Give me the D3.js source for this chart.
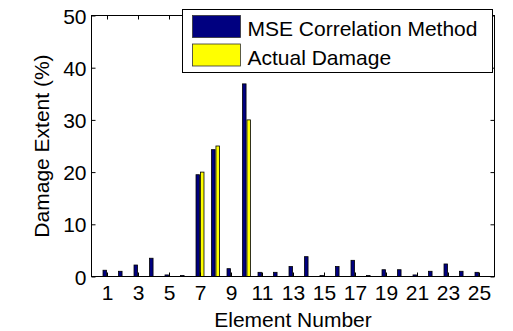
<!DOCTYPE html>
<html>
<head>
<meta charset="utf-8">
<script src="https://cdn.jsdelivr.net/npm/d3@7"></script>
<style>
  html, body { margin: 0; padding: 0; background: #fff; }
  svg { display: block; }
</style>
</head>
<body>
<svg id="chart" width="513" height="331"></svg>
<script>
// Element numbers 1..25
const elements = [1,2,3,4,5,6,7,8,9,10,11,12,13,14,15,16,17,18,19,20,21,22,23,24,25];
// Damage extent (%) identified by the MSE correlation method
const mseValues = [1.2,1.0,2.2,3.5,0.3,0.2,19.5,24.3,1.5,36.9,0.8,0.8,1.9,3.8,0.2,1.9,3.1,0.2,1.3,1.3,0.3,1.0,2.4,1.0,0.8];
// Actual damage extent (%)
const actualValues = [0,0,0,0,0,0,20,25,0,30,0,0,0,0,0,0,0,0,0,0,0,0,0,0,0];
const xTickValues = [1,3,5,7,9,11,13,15,17,19,21,23,25];
const yTickValues = [0,10,20,30,40,50];
const seriesNames = ["MSE Correlation Method", "Actual Damage"];
const seriesColors = ["#000080", "#ffff00"];

const FONT = "'Liberation Sans', Arimo, Arial, Helvetica, sans-serif";
const fontSize = 21;

const svg = d3.select("#chart");
const m = { left: 91.5, right: 494.5, top: 15.5, bottom: 276.5 };

const x = d3.scaleLinear().domain([0, 26]).range([m.left, m.right]);
const y = d3.scaleLinear().domain([0, 50]).range([m.bottom, m.top]);

// Grouped bar geometry: two series per element
const groupWidth = 2 / 3.5;
const barW = groupWidth / 2 * 0.8;
const offsets = [-groupWidth / 4, groupWidth / 4];

const series = [mseValues, actualValues];
series.forEach((vals, si) => {
  svg.append("g")
    .selectAll("rect")
    .data(elements.map((e, i) => ({ e, v: vals[i] })).filter(d => d.v > 0))
    .join("rect")
    .attr("x", d => x(d.e + offsets[si] - barW / 2))
    .attr("width", d => x(d.e + offsets[si] + barW / 2) - x(d.e + offsets[si] - barW / 2))
    .attr("y", d => y(d.v))
    .attr("height", d => y(0) - y(d.v))
    .attr("fill", seriesColors[si])
    .attr("stroke", "#000")
    .attr("stroke-width", 0.8);
});

// Axes: ticks point inward on all four sides
const tickLen = 4;
const bottomAxis = d3.axisBottom(x).tickValues(xTickValues).tickSize(-tickLen).tickPadding(9).tickFormat(d3.format("d"));
const topAxis = d3.axisTop(x).tickValues(xTickValues).tickSize(-tickLen).tickFormat("");
const leftAxis = d3.axisLeft(y).tickValues(yTickValues).tickSize(-tickLen).tickPadding(5).tickFormat(d3.format("d"));
const rightAxis = d3.axisRight(y).tickValues(yTickValues).tickSize(-tickLen).tickFormat("");

function styleAxis(g) {
  g.attr("font-family", FONT).attr("font-size", fontSize);
  g.select(".domain").remove();
  g.selectAll(".tick line").attr("stroke", "#000").attr("stroke-width", 1);
  g.selectAll(".tick text").attr("fill", "#000");
}

svg.append("g").attr("transform", `translate(0,${m.bottom})`).call(bottomAxis).call(styleAxis);
svg.append("g").attr("transform", `translate(0,${m.top})`).call(topAxis).call(styleAxis);
svg.append("g").attr("transform", `translate(${m.left},0)`).call(leftAxis).call(styleAxis)
  .selectAll(".tick text").attr("dy", "0.36em");
svg.append("g").attr("transform", `translate(${m.right},0)`).call(rightAxis).call(styleAxis);

// Plot box
svg.append("rect")
  .attr("x", m.left).attr("y", m.top)
  .attr("width", m.right - m.left).attr("height", m.bottom - m.top)
  .attr("fill", "none").attr("stroke", "#000").attr("stroke-width", 1);

// Axis titles
svg.append("text")
  .attr("x", (m.left + m.right) / 2).attr("y", 327)
  .attr("text-anchor", "middle")
  .attr("font-family", FONT).attr("font-size", fontSize)
  .text("Element Number");
svg.append("text")
  .attr("transform", `translate(49,${(m.top + m.bottom) / 2}) rotate(-90)`)
  .attr("text-anchor", "middle")
  .attr("font-family", FONT).attr("font-size", fontSize)
  .text("Damage Extent (%)");

// Legend
const lg = svg.append("g");
lg.append("rect")
  .attr("x", 182.5).attr("y", 9.5).attr("width", 310).attr("height", 63)
  .attr("fill", "#fff").attr("stroke", "#000").attr("stroke-width", 1);
seriesNames.forEach((name, i) => {
  const yy = 15.5 + i * 28.5;
  lg.append("rect")
    .attr("x", 192.5).attr("y", yy).attr("width", 48).attr("height", 22)
    .attr("fill", seriesColors[i]).attr("stroke", "#333").attr("stroke-width", 0.8);
  lg.append("text")
    .attr("x", 247.5).attr("y", yy + 20.5)
    .attr("font-family", FONT).attr("font-size", fontSize)
    .text(name);
});
</script>
</body>
</html>
